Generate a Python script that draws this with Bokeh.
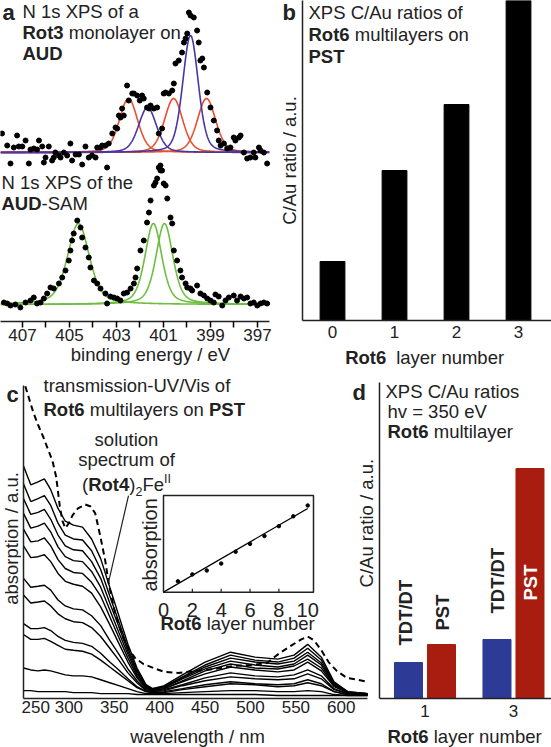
import numpy as np
from bokeh.plotting import figure
from bokeh.layouts import row, column
from bokeh.models import Label, Range1d, FixedTicker, ColumnDataSource
from bokeh.core.properties import value
from bokeh.embed import file_html
from bokeh.resources import INLINE

FONT = "Liberation Sans"
TS = 18.5  # text size px

# ---------------- DATA ----------------
# (a) N 1s XPS, Rot3 monolayer on AUD
a_top_be = [407.87, 407.65, 407.51, 407.37, 407.23, 407.16, 407.01, 406.87, 406.73, 406.66, 406.52, 406.38, 406.30,
            406.16, 406.09, 406.02, 405.88, 405.74, 405.67, 405.60, 405.45, 405.38, 405.24, 405.10, 404.96, 404.89,
            404.74, 404.60, 404.46, 404.32, 404.18, 404.04, 403.89, 403.82, 403.68, 403.61, 403.47, 403.40, 403.33,
            403.18, 403.04, 402.97, 402.90, 402.83, 402.76, 402.69, 402.55, 402.48, 402.33, 402.26, 402.12, 402.01,
            401.91, 401.84, 401.70, 401.62, 401.55, 401.41, 401.27, 401.20, 401.13, 401.06, 400.99, 400.91, 400.77,
            400.63, 400.56, 400.49, 400.35, 400.21, 400.13, 400.06, 399.99, 399.92, 399.85, 399.71, 399.57, 399.50,
            399.43, 399.35, 399.28, 399.14, 399.00, 398.86, 398.72, 398.65, 398.57, 398.43, 398.29, 398.15, 398.01,
            397.94, 397.79, 397.72, 397.58, 397.44, 397.30, 397.16, 397.09, 396.94, 396.87, 396.73, 396.59]
a_top_int = [19, 7, -11, 5, 17, 6, 6, 12, -11, 3, 4, 3, 12, 6, -10, -5, 6, -8, -5, 0, -3, -5, 0, -3, 9, -8, -2, -2,
             -12, 6, -5, -3, -5, 5, 5, 7, 7, -15, 9, 19, 25, 24, 37, 35, 44, 37, 67, 52, 59, 59, 57, 52, 57, 54, 45,
             44, 47, 44, 45, 19, -13, 24, 59, 60, 59, 62, 69, 89, 92, 100, 110, 114, 119, 140, 137, 135, 122, 110, 92,
             94, 85, 60, 45, 32, 22, 12, 7, 9, 4, 5, 15, 12, 15, 17, 0, -6, -5, 0, -5, 5, 2, 0, -11]
a_red_center = [402.49, 400.57, 399.17]
a_red_height = [54, 54, 54]
a_red_fwhm = [0.92, 0.92, 0.92]
a_blue_center = [401.68, 399.85]
a_blue_height = [45, 117]
a_blue_fwhm = [0.9, 0.78]

# (a) N 1s XPS of the AUD-SAM
a_sam_be = [407.79, 407.65, 407.51, 407.30, 407.09, 406.87, 406.66, 406.52, 406.38, 406.23, 406.09, 405.95, 405.81,
            405.67, 405.45, 405.31, 405.17, 405.03, 404.96, 404.89, 404.82, 404.67, 404.53, 404.46, 404.32, 404.18,
            404.11, 403.96, 403.82, 403.68, 403.47, 403.40, 403.26, 403.11, 402.97, 402.83, 402.69, 402.55, 402.40,
            402.26, 402.19, 402.12, 401.98, 401.84, 401.70, 401.62, 401.55, 401.41, 401.34, 401.27, 401.20, 401.13,
            401.06, 400.99, 400.91, 400.84, 400.70, 400.63, 400.56, 400.42, 400.28, 400.21, 400.06, 399.99, 399.85,
            399.78, 399.57, 399.43, 399.28, 399.14, 399.00, 398.86, 398.79, 398.65, 398.50, 398.36, 398.22, 398.01,
            397.87, 397.72, 397.58, 397.44, 397.30, 397.16, 397.01, 396.87, 396.73, 396.59]
a_sam_int = [2, 1, -1, 0, -3, 2, 4, 7, 1, 2, 6, 11, 17, 16, 21, 27, 34, 44, 54, 64, 71, 84, 77, 67, 57, 47, 37, 24, 21,
             16, 11, 1, 8, 7, 6, 4, 11, 12, 16, 21, 27, 36, 54, 64, 82, 92, 104, 119, 122, 126, 137, 134, 134, 121,
             119, 106, 87, 81, 54, 44, 34, 27, 21, 17, 16, 14, 19, 11, 9, 6, 4, 2, 10, 8, -1, 4, 7, 9, 4, 8, 6, 7, 1,
             2, -1, 1, 2, 1]
a_sam_center = [404.62, 401.43, 400.96]
a_sam_height = [81, 81, 81]
a_sam_fwhm = [1.1, 0.85, 0.85]
a_ticks = [397, 399, 401, 403, 405, 407]
a_minor = [398, 400, 402, 404, 406]

# (b) XPS C/Au ratios of Rot6 multilayers on PST
b_layers = [0, 1, 2, 3]
b_ratio = [0.59, 1.50, 2.16, 3.30]

# (c) transmission UV/Vis of Rot6 multilayers (one list per spectrum, top to bottom)
c_wl = [250, 258, 266, 273, 280, 288, 296, 305, 315, 325, 335, 345, 355, 365, 375, 385, 392, 405, 425, 450, 478,
        505, 530, 548, 563, 578, 592, 607, 629]
c_s10 = [2.36, 2.17, 2.20, 2.23, 2.12, 1.93, 1.80, 1.76, 1.74, 1.62, 1.42, 1.13, 0.84, 0.55, 0.31, 0.14, 0.10, 0.13,
         0.24, 0.37, 0.47, 0.42, 0.40, 0.44, 0.55, 0.42, 0.17, 0.07, 0.05]
c_s9 = [2.18, 2.00, 2.03, 2.06, 1.96, 1.78, 1.66, 1.62, 1.61, 1.50, 1.31, 1.04, 0.78, 0.51, 0.29, 0.13, 0.10, 0.12,
        0.22, 0.34, 0.44, 0.39, 0.37, 0.41, 0.51, 0.39, 0.16, 0.07, 0.05]
c_s8 = [2.03, 1.87, 1.89, 1.92, 1.82, 1.66, 1.55, 1.51, 1.50, 1.39, 1.22, 0.97, 0.73, 0.48, 0.27, 0.13, 0.09, 0.12,
        0.21, 0.32, 0.41, 0.37, 0.35, 0.38, 0.47, 0.36, 0.15, 0.06, 0.05]
c_s7 = [1.88, 1.73, 1.75, 1.78, 1.69, 1.54, 1.44, 1.40, 1.39, 1.29, 1.13, 0.90, 0.67, 0.45, 0.25, 0.12, 0.09, 0.11,
        0.20, 0.30, 0.38, 0.34, 0.32, 0.35, 0.44, 0.34, 0.14, 0.06, 0.05]
c_s6 = [1.72, 1.59, 1.60, 1.63, 1.55, 1.41, 1.32, 1.28, 1.27, 1.18, 1.04, 0.83, 0.62, 0.41, 0.23, 0.11, 0.08, 0.10,
        0.18, 0.28, 0.35, 0.31, 0.30, 0.33, 0.40, 0.31, 0.13, 0.06, 0.04]
c_s5 = [1.55, 1.43, 1.44, 1.46, 1.39, 1.27, 1.19, 1.16, 1.14, 1.07, 0.93, 0.75, 0.56, 0.37, 0.21, 0.10, 0.08, 0.10,
        0.17, 0.25, 0.32, 0.29, 0.27, 0.29, 0.37, 0.28, 0.12, 0.06, 0.04]
c_s4 = [1.22, 1.13, 1.14, 1.15, 1.10, 1.00, 0.94, 0.91, 0.90, 0.84, 0.74, 0.59, 0.45, 0.30, 0.18, 0.09, 0.07, 0.09,
        0.14, 0.21, 0.26, 0.23, 0.22, 0.24, 0.29, 0.23, 0.10, 0.05, 0.04]
c_s3 = [1.05, 0.97, 0.98, 0.99, 0.94, 0.86, 0.81, 0.78, 0.77, 0.72, 0.63, 0.51, 0.39, 0.26, 0.16, 0.08, 0.07, 0.08,
        0.13, 0.18, 0.22, 0.20, 0.19, 0.20, 0.25, 0.20, 0.09, 0.05, 0.04]
c_s2 = [0.76, 0.71, 0.71, 0.72, 0.69, 0.63, 0.59, 0.57, 0.56, 0.53, 0.46, 0.37, 0.29, 0.20, 0.12, 0.07, 0.06, 0.07,
        0.10, 0.14, 0.17, 0.15, 0.14, 0.15, 0.19, 0.15, 0.07, 0.04, 0.04]
c_s1 = [0.65, 0.60, 0.60, 0.61, 0.58, 0.54, 0.50, 0.49, 0.48, 0.45, 0.39, 0.32, 0.25, 0.18, 0.11, 0.07, 0.06, 0.06,
        0.09, 0.12, 0.15, 0.14, 0.12, 0.13, 0.16, 0.13, 0.07, 0.04, 0.04]
c_s0 = [0.31, 0.29, 0.28, 0.29, 0.28, 0.26, 0.24, 0.23, 0.23, 0.22, 0.19, 0.16, 0.13, 0.10, 0.07, 0.05, 0.05, 0.05,
        0.06, 0.07, 0.08, 0.08, 0.07, 0.07, 0.08, 0.07, 0.04, 0.03, 0.03]
c_sub = [0.08, 0.08, 0.07, 0.07, 0.07, 0.07, 0.07, 0.06, 0.06, 0.06, 0.05, 0.05, 0.05, 0.05, 0.04, 0.04, 0.04, 0.04,
         0.04, 0.04, 0.04, 0.04, 0.03, 0.03, 0.03, 0.03, 0.03, 0.03, 0.03]
# solution spectrum of (Rot4)2Fe(II), dashed
c_sol_wl = [252, 256, 261, 266, 272, 277, 282, 286, 290, 293, 296, 300, 304, 310, 318, 324, 329, 335, 340, 344, 351,
            359, 366, 373, 382, 393, 405, 420, 440, 460, 481, 500, 518, 532, 547, 556, 563, 570, 578, 586, 595, 606,
            618, 629]
c_sol = [3.17, 3.05, 2.90, 2.78, 2.65, 2.53, 2.41, 2.25, 1.95, 1.80, 1.73, 1.78, 1.86, 1.93, 1.97, 1.95, 1.88, 1.63,
         1.40, 1.16, 0.86, 0.63, 0.50, 0.41, 0.35, 0.31, 0.27, 0.26, 0.28, 0.30, 0.33, 0.34, 0.36, 0.46, 0.55, 0.60,
         0.63, 0.59, 0.49, 0.37, 0.28, 0.21, 0.19, 0.17]
c_ticks = [250, 300, 350, 400, 450, 500, 550, 600]
# inset: absorption vs. Rot6 layer number
ins_layer = [1, 2, 3, 4, 5, 6, 7, 8, 9, 10]
ins_abs = [0.11, 0.18, 0.22, 0.29, 0.41, 0.49, 0.57, 0.67, 0.77, 0.88]
ins_fit_slope = 0.085
ins_fit_icpt = 0.0
ins_ticks = [0, 2, 4, 6, 8, 10]

# (d) XPS C/Au ratios hv = 350 eV
d_layers = [1, 3]
d_tdt = [0.36, 0.59]
d_pst = [0.54, 2.30]

BLUE = "#2d3a96"
RED = "#a81d0f"
A_RED = "#e8502d"
A_BLUE = "#4a35a5"
GREEN = "#6cbf3c"
INK = "#222222"

# ---------------- helpers ----------------
REG = {' ': 278, '(': 333, ')': 333, '-': 333, '.': 278, '/': 278, '=': 584, 'A': 667, 'C': 722, 'D': 722,
       'F': 611, 'I': 278, 'M': 833, 'N': 722, 'P': 667, 'R': 722, 'S': 667, 'T': 611, 'U': 722, 'V': 667,
       'X': 667, 'a': 556, 'b': 556, 'c': 500, 'd': 556, 'e': 556, 'f': 278, 'g': 556, 'h': 556, 'i': 222,
       'l': 222, 'm': 833, 'n': 556, 'o': 556, 'p': 556, 'r': 333, 's': 500, 't': 278, 'u': 556, 'v': 500,
       'w': 722, 'y': 500}
BOLD = {' ': 278, '(': 333, ')': 333, '/': 278, 'A': 722, 'D': 722, 'P': 667, 'R': 722, 'S': 667, 'T': 611,
        'U': 722, 'o': 611, 't': 333, 'a': 556, 'b': 611, 'c': 556, 'd': 611}


def tw(s, size, bold=False):
    t = BOLD if bold else REG
    return sum(t.get(ch, 556) for ch in s) * size / 1000.0


class Frame:
    """maps page pixels <-> data units of a figure's frame"""
    def __init__(self, fl, fr, ft, fb, x0, x1, y0, y1):
        self.fl, self.fr, self.ft, self.fb = fl, fr, ft, fb
        self.x0, self.x1, self.y0, self.y1 = x0, x1, y0, y1

    def x(self, px):
        return self.x0 + (px - self.fl) * (self.x1 - self.x0) / (self.fr - self.fl)

    def y(self, py):
        return self.y0 + (self.fb - py) * (self.y1 - self.y0) / (self.fb - self.ft)


def style_axis(ax, size="17px"):
    ax.axis_line_width = 1.5
    ax.axis_line_color = INK
    ax.major_label_text_font = FONT
    ax.major_label_text_font_size = size
    ax.major_label_text_color = INK
    ax.major_tick_in = 0
    ax.minor_tick_in = 0
    ax.axis_label_text_font = FONT
    ax.axis_label_text_font_size = f"{TS}px"
    ax.axis_label_text_font_style = "normal"
    ax.axis_label_text_color = INK


def make_fig(w, h, F, ml, mr, mt, mb, yaxis=True):
    p = figure(width=w, height=h, x_range=Range1d(F.x0, F.x1), y_range=Range1d(F.y0, F.y1),
               output_backend="svg", toolbar_location=None,
               min_border_left=ml, min_border_right=mr, min_border_top=mt, min_border_bottom=mb,
               y_axis_location=("left" if yaxis else None))
    p.outline_line_color = None
    p.background_fill_color = "white"
    p.border_fill_color = "white"
    p.xgrid.visible = False
    p.ygrid.visible = False
    for ax in p.axis:
        style_axis(ax)
    if yaxis:
        p.yaxis.ticker = FixedTicker(ticks=[])
        p.yaxis.major_tick_line_color = None
        p.yaxis.minor_tick_line_color = None
        p.yaxis.major_tick_out = 0
        p.yaxis.minor_tick_out = 0
        p.yaxis.major_label_standoff = 0
        p.yaxis.axis_label_standoff = 0
    return p


def strip(left, top, w, h):
    F = Frame(left, left + w, top, top + h, 0, w, 0, h)
    p = figure(width=w, height=h, x_range=Range1d(0, w), y_range=Range1d(0, h), output_backend="svg",
               toolbar_location=None, min_border_left=0, min_border_right=0, min_border_top=0,
               min_border_bottom=0, x_axis_location=None, y_axis_location=None)
    p.outline_line_color = None
    p.grid.visible = False
    p.background_fill_color = "white"
    p.border_fill_color = "white"
    return p, F


def line_text(p, F, px, py, parts, color=INK, align="left"):
    """parts: list of (text, bold, size, dy); (px, py) = page pixel of the start of the alphabetic baseline"""
    total = sum(tw(t, s, b) for t, b, s, dy in parts)
    x = px - (total / 2 if align == "center" else 0)
    for t, b, s, dy in parts:
        lead = len(t) - len(t.lstrip(' '))
        xx = x + tw(' ' * lead, s, b)
        p.add_layout(Label(x=F.x(xx), y=F.y(py + dy - 0.35 * s), text=t.strip(' '), text_font=FONT,
                           text_font_size=f"{s}px", text_font_style=("bold" if b else "normal"),
                           text_align="left", text_baseline="middle", text_color=color))
        x += tw(t, s, b)


def rot_text(p, F, px, py, text, size, bold=False, color=INK, align="center"):
    p.add_layout(Label(x=F.x(px), y=F.y(py), text=text, text_font=FONT, text_font_size=f"{size}px",
                       text_font_style=("bold" if bold else "normal"), angle=np.pi / 2,
                       text_align=align, text_baseline="middle", text_color=color))


def pv(x, c, h, fwhm, eta=0.3):
    x = np.asarray(x)
    s = fwhm / 2.3548
    g = np.exp(-(x - c) ** 2 / (2 * s * s))
    lz = 1.0 / (1.0 + ((x - c) / (fwhm / 2)) ** 2)
    return h * ((1 - eta) * g + eta * lz)


ROW1 = 373
BOT = 726  # top of the bottom title strip

# ---------------- panel a (its frame also hosts panel b's letter and y title) ----------------
A_XMIN, A_XMAX = 396.5, 407.936
a_ppe = 23.5
FA = Frame(0, 300, 0, 321, A_XMAX, A_XMAX - 300 / a_ppe, 0, 321)
pa = make_fig(300, ROW1, FA, 0, 0, 0, ROW1 - 321, yaxis=False)
pa.xaxis.ticker = FixedTicker(ticks=a_ticks, minor_ticks=a_minor)
pa.xaxis.bounds = (A_XMIN, A_XMAX)
pa.xaxis.major_tick_out = 6
pa.xaxis.minor_tick_out = 6
pa.xaxis.major_tick_line_width = 1.5
pa.xaxis.minor_tick_line_width = 1.5
pa.xaxis.major_label_standoff = 1
pa.xaxis.axis_label = "binding energy / eV"
pa.xaxis.axis_label_standoff = 0

TOP_OFF = 169
SAM_OFF = 17
xx = np.linspace(A_XMIN, A_XMAX, 500)
for c, h, w in zip(a_red_center, a_red_height, a_red_fwhm):
    pa.line(xx, pv(xx, c, h, w) + TOP_OFF, line_color=A_RED, line_width=1.6)
for c, h, w in zip(a_blue_center, a_blue_height, a_blue_fwhm):
    pa.line(xx, pv(xx, c, h, w) + TOP_OFF, line_color=A_BLUE, line_width=1.6)
pa.scatter(a_top_be, np.array(a_top_int) + TOP_OFF, size=5, color="black")
for c, h, w in zip(a_sam_center, a_sam_height, a_sam_fwhm):
    pa.line(xx, pv(xx, c, h, w, 0.45) + SAM_OFF, line_color=GREEN, line_width=1.6)
pa.scatter(a_sam_be, np.array(a_sam_int) + SAM_OFF, size=5, color="black")

line_text(pa, FA, 2, 20, [("a", True, 22, 0)])
line_text(pa, FA, 22, 17.5, [("N 1s XPS of a", False, TS, 0)])
line_text(pa, FA, 22, 38.5, [("Rot3", True, TS, 0), (" monolayer on", False, TS, 0)])
line_text(pa, FA, 22, 59, [("AUD", True, TS, 0)])
line_text(pa, FA, 1, 188, [("N 1s XPS of the", False, TS, 0)])
line_text(pa, FA, 1, 209, [("AUD", True, TS, 0), ("-SAM", False, TS, 0)])
line_text(pa, FA, 282, 20, [("b", True, 22, 0)])
rot_text(pa, FA, 289, 160, "C/Au ratio / a.u.", TS)

# ---------------- panel b ----------------
FB = Frame(302, 551, 0, 320, -0.484, 3.532, 0, 3.20)
pb = make_fig(251, 346, FB, 2, 0, 0, 26)
pb.xaxis.ticker = FixedTicker(ticks=b_layers)
pb.xaxis.major_tick_line_color = None
pb.xaxis.minor_tick_line_color = None
pb.xaxis.major_tick_out = 0
pb.xaxis.major_label_standoff = 5
pb.vbar(x=b_layers, top=b_ratio, width=0.4, color="black")
line_text(pb, FB, 308, 18, [("XPS C/Au ratios of", False, TS, 0)])
line_text(pb, FB, 308, 40, [("Rot6", True, TS, 0), (" multilayers on", False, TS, 0)])
line_text(pb, FB, 308, 62, [("PST", True, TS, 0)])

sbb, FSB = strip(300, 346, 251, ROW1 - 346)
line_text(sbb, FSB, 343, 363, [("Rot6", True, TS, 0), ("  layer number", False, TS, 0)])

# ---------------- strip left of panel c ----------------
ROW2 = 747 - ROW1
scl, FCL = strip(0, ROW1, 21, ROW2)
line_text(scl, FCL, 6, 402, [("c", True, 22, 0)])
rot_text(scl, FCL, 10.5, 538, "absorption / a.u.", TS)

# ---------------- panel c (its frame also hosts panel d's letter and y title) ----------------
C_TOP = 3.18
c_ppn = 0.908
FC = Frame(23, 377, ROW1, 703, 250, 250 + 354 / c_ppn, 0, (703 - ROW1) / 100)
pc = make_fig(356, BOT - ROW1, FC, 2, 0, 0, BOT - 703)
pc.xaxis.ticker = FixedTicker(ticks=c_ticks)
pc.xaxis.bounds = (250, 629)
pc.yaxis.bounds = (0, C_TOP)
pc.xaxis.major_tick_line_color = None
pc.xaxis.minor_tick_line_color = None
pc.xaxis.major_tick_out = 0
pc.xaxis.major_label_standoff = 2

for spec in [c_sub, c_s0, c_s1, c_s2, c_s3, c_s4, c_s5, c_s6, c_s7, c_s8, c_s9, c_s10]:
    pc.line(c_wl, spec, line_color="black", line_width=1.4)
pc.line(c_sol_wl, c_sol, line_color="black", line_width=2, line_dash="6 4")

# inset mapped through its own ranges
ins_l, ins_r = FC.x(163), FC.x(313)   # box edges in wavelength units of panel c
ins_b, ins_t = FC.y(595), FC.y(497)   # box edges in absorption units of panel c
ins_xmax, ins_ymax = 10.4, 0.98
kx = (ins_r - ins_l) / ins_xmax
ky = (ins_t - ins_b) / ins_ymax
pc.extra_x_ranges = {"ix": Range1d((FC.x0 - ins_l) / kx, (FC.x1 - ins_l) / kx)}
pc.extra_y_ranges = {"iy": Range1d((FC.y0 - ins_b) / ky, (FC.y1 - ins_b) / ky)}
pc.quad(left=0, right=ins_xmax, bottom=0, top=ins_ymax, fill_color="white", line_color=INK, line_width=1.5,
        x_range_name="ix", y_range_name="iy")
pc.segment(x0=ins_ticks[1:-1], x1=ins_ticks[1:-1], y0=[0] * 4, y1=[0.035] * 4, line_color=INK,
           line_width=1.2, x_range_name="ix", y_range_name="iy")
fit_x = [0, 10]
pc.line(fit_x, [ins_fit_icpt + ins_fit_slope * v for v in fit_x], line_color="black", line_width=1.2,
        x_range_name="ix", y_range_name="iy")
pc.scatter(ins_layer, ins_abs, size=3.5, color="black", x_range_name="ix", y_range_name="iy")
ppu = (FC.fb - FC.ft) / (FC.y1 - FC.y0)
tsrc = ColumnDataSource(dict(x=ins_ticks, y=[-18 / ppu / ky] * len(ins_ticks),
                             t=[str(v) for v in ins_ticks]))
pc.text(x="x", y="y", text="t", source=tsrc, text_font=value(FONT), text_font_size="20px",
        text_align="center", text_baseline="alphabetic", text_color=INK,
        x_range_name="ix", y_range_name="iy")

line_text(pc, FC, 43, 392, [("transmission-UV/Vis of", False, TS, 0)])
line_text(pc, FC, 43, 416, [("Rot6", True, TS, 0), (" multilayers on ", False, TS, 0), ("PST", True, TS, 0)])
line_text(pc, FC, 126, 446, [("solution", False, TS, 0)], align="center")
line_text(pc, FC, 126, 467, [("spectrum of", False, TS, 0)], align="center")
line_text(pc, FC, 126, 492, [("(", False, TS, 0), ("Rot4", True, TS, 0), (")", False, TS, 0),
                             ("2", False, 12.5, 5), ("Fe", False, TS, 0), ("II", False, 12.5, -8)], align="center")
pc.segment(x0=[FC.x(128)], y0=[FC.y(497)], x1=[FC.x(108)], y1=[FC.y(585)], line_color=INK, line_width=1.2)
line_text(pc, FC, 237, 633, [("Rot6", True, TS, 0), (" layer number", False, TS, 0)], align="center")
rot_text(pc, FC, 149, 547, "absorption", 20)
line_text(pc, FC, 352, 400, [("d", True, 22, 0)])
rot_text(pc, FC, 366, 525, "C/Au ratio / a.u.", TS)

# ---------------- panel d ----------------
FD = Frame(379, 551, ROW1, 698, -0.028, 3.859, 0, (698 - ROW1) / 100)
pd_ = make_fig(174, BOT - ROW1, FD, 2, 0, 0, BOT - 698)
pd_.yaxis.bounds = (0, 3.16)
pd_.xaxis.ticker = FixedTicker(ticks=d_layers)
pd_.xaxis.major_tick_line_color = None
pd_.xaxis.minor_tick_line_color = None
pd_.xaxis.major_tick_out = 0
pd_.xaxis.major_label_standoff = 6
off = 0.373
pd_.vbar(x=[v - off for v in d_layers], top=d_tdt, width=0.633, color=BLUE)
pd_.vbar(x=[v + off for v in d_layers], top=d_pst, width=0.633, color=RED)
line_text(pd_, FD, 385, 397, [("XPS C/Au ratios", False, TS, 0)])
line_text(pd_, FD, 387, 417, [("hv = 350 eV", False, TS, 0)])
line_text(pd_, FD, 387, 437, [("Rot6", True, TS, 0), (" multilayer", False, TS, 0)])
rot_text(pd_, FD, 405, 645, "TDT/DT", TS, bold=True, align="left")
rot_text(pd_, FD, 442, 630, "PST", TS, bold=True, align="left")
rot_text(pd_, FD, 497, 613, "TDT/DT", TS, bold=True, align="left")
rot_text(pd_, FD, 530, 600, "PST", TS, bold=True, align="left", color="white")

# ---------------- bottom strip (x titles of c and d) ----------------
sbt, FBT = strip(21, BOT, 530, 747 - BOT)
line_text(sbt, FBT, 197, 742.7, [("wavelength / nm", False, TS, 0)], align="center")
line_text(sbt, FBT, 387, 742.7, [("Rot6", True, TS, 0), (" layer number", False, TS, 0)])

layout = column(row(pa, column(pb, sbb, spacing=0), spacing=0),
                row(scl, column(row(pc, pd_, spacing=0), sbt, spacing=0), spacing=0), spacing=0)
open("out.html", "w").write(file_html(layout, INLINE))
